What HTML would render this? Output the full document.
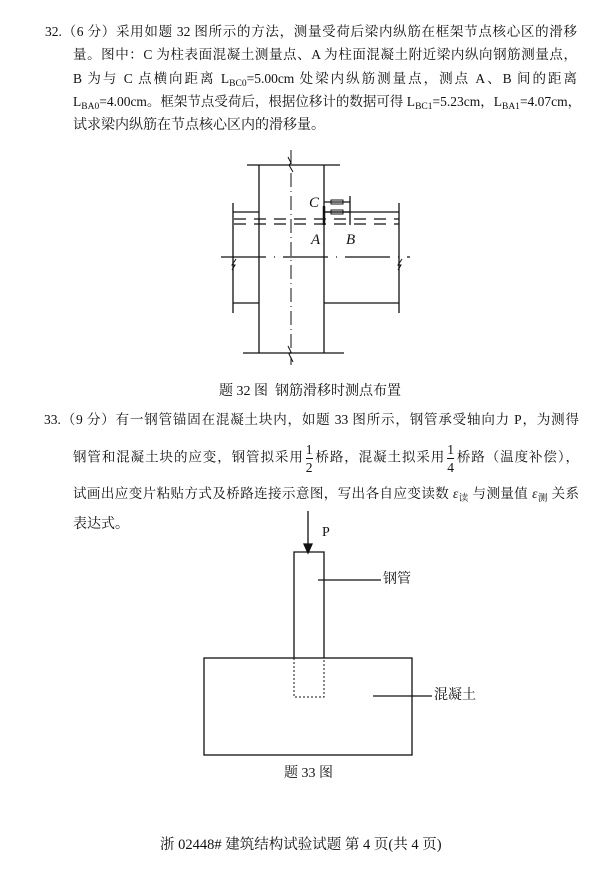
<!DOCTYPE html>
<html><head><meta charset="utf-8"><style>
body{margin:0;background:#fff;}
#p{position:relative;width:601px;height:886px;overflow:hidden;background:#fff;color:#111;font-family:"Liberation Serif","Noto Serif CJK SC",serif;font-size:13.5px;}
.l{position:absolute;height:20px;line-height:20px;white-space:nowrap;text-align:justify;text-align-last:justify;}
.c{position:absolute;height:20px;line-height:20px;white-space:nowrap;}
sub{font-size:9.5px;vertical-align:-3px;line-height:0;}
.fr{display:inline-block;vertical-align:middle;text-align:center;line-height:17px;margin:0 2px;}
.fr span{display:block;}
.fr .n{border-bottom:1px solid #111;}
</style></head><body><div id="p">
<div class="l" style="left:45px;top:22px;width:532px">32.（6 分）采用如题 32 图所示的方法，测量受荷后梁内纵筋在框架节点核心区的滑移</div>
<div class="l" style="left:73px;top:45px;width:504px">量。图中：C 为柱表面混凝土测量点、A 为柱面混凝土附近梁内纵向钢筋测量点，</div>
<div class="l" style="left:73px;top:69px;width:504px">B 为与 C 点横向距离 L<sub>BC0</sub>=5.00cm 处梁内纵筋测量点，测点 A、B 间的距离</div>
<div class="l" style="left:73px;top:92px;width:504px">L<sub>BA0</sub>=4.00cm。框架节点受荷后，根据位移计的数据可得 L<sub>BC1</sub>=5.23cm，L<sub>BA1</sub>=4.07cm，</div>
<div class="c" style="left:73px;top:116px;font-size:14px">试求梁内纵筋在节点核心区内的滑移量。</div>

<svg style="position:absolute;left:0;top:0" width="601" height="886" stroke="#111" fill="none" stroke-width="1.3">
<line x1="247" y1="165" x2="340" y2="165"/>
<line x1="243" y1="353" x2="344" y2="353"/>
<line x1="259" y1="165" x2="259" y2="353"/>
<line x1="324" y1="165" x2="324" y2="353"/>
<line x1="291" y1="150" x2="291" y2="365" stroke-dasharray="14 4 1 4" stroke-width="1"/>
<line x1="233" y1="203" x2="233" y2="313"/>
<line x1="399" y1="203" x2="399" y2="313"/>
<line x1="233" y1="212" x2="259" y2="212"/><line x1="324" y1="212" x2="399" y2="212"/>
<line x1="233" y1="303" x2="259" y2="303"/><line x1="324" y1="303" x2="399" y2="303"/>
<line x1="234" y1="219" x2="399" y2="219" stroke-dasharray="12 8"/>
<line x1="234" y1="224" x2="399" y2="224" stroke-dasharray="12 8"/>
<line x1="221" y1="257" x2="410" y2="257" stroke-dasharray="45 8 1 8"/>
<line x1="324" y1="206" x2="324" y2="225" stroke-width="2.5"/>
<line x1="324" y1="202" x2="350" y2="202"/><line x1="324" y1="212" x2="350" y2="212"/>
<rect x="331" y="200" width="12" height="4" stroke-width="1"/><rect x="331" y="210" width="12" height="4" stroke-width="1"/>
<line x1="350" y1="196" x2="350" y2="225"/>
<polyline points="288,157 291,163 289,165 293,172" stroke-width="1"/>
<polyline points="288,346 291,352 289,354 293,362" stroke-width="1"/>
<polyline points="236,259 232,265 235,265 232,270" stroke-width="1"/>
<polyline points="402,259 398,265 401,265 398,270" stroke-width="1"/>
<line x1="308" y1="511" x2="308" y2="546"/>
<polygon points="304,544 312,544 308,553" fill="#111"/>
<polyline points="294,658 294,552 324,552 324,658"/>
<polyline points="294,658 294,697 324,697 324,658" stroke-dasharray="2 2" stroke-width="1"/>
<rect x="204" y="658" width="208" height="97"/>
<line x1="318" y1="580" x2="381" y2="580"/>
<line x1="373" y1="696" x2="432" y2="696"/>
</svg>
<div class="c" style="left:309px;top:193px;font-style:italic;font-size:15px">C</div>
<div class="c" style="left:311px;top:230px;font-style:italic;font-size:15px">A</div>
<div class="c" style="left:346px;top:230px;font-style:italic;font-size:15px">B</div>
<div class="c" style="left:219px;top:382px;font-size:14px">题 32 图&nbsp; 钢筋滑移时测点布置</div>

<div class="l" style="left:44px;top:410px;width:535px">33.（9 分）有一钢管锚固在混凝土块内，如题 33 图所示，钢管承受轴向力 P，为测得</div>
<div class="l" style="left:73px;top:441px;width:506px">钢管和混凝土块的应变，钢管拟采用<span class="fr"><span class="n">1</span><span>2</span></span>桥路，混凝土拟采用<span class="fr"><span class="n">1</span><span>4</span></span>桥路（温度补偿），</div>
<div class="l" style="left:73px;top:484px;width:506px">试画出应变片粘贴方式及桥路连接示意图，写出各自应变读数 <i>ε</i><sub>读</sub> 与测量值 <i>ε</i><sub>测</sub> 关系</div>
<div class="c" style="left:73px;top:515px;font-size:14px">表达式。</div>

<div class="c" style="left:322px;top:523px;font-size:14px">P</div>
<div class="c" style="left:383px;top:570px;font-size:14px">钢管</div>
<div class="c" style="left:434px;top:686px;font-size:14px">混凝土</div>
<div class="c" style="left:284px;top:764px;font-size:14px">题 33 图</div>

<div class="c" style="left:160px;top:835px;font-size:14.5px">浙 02448# 建筑结构试验试题 第 4 页(共 4 页)</div>
</div></body></html>
